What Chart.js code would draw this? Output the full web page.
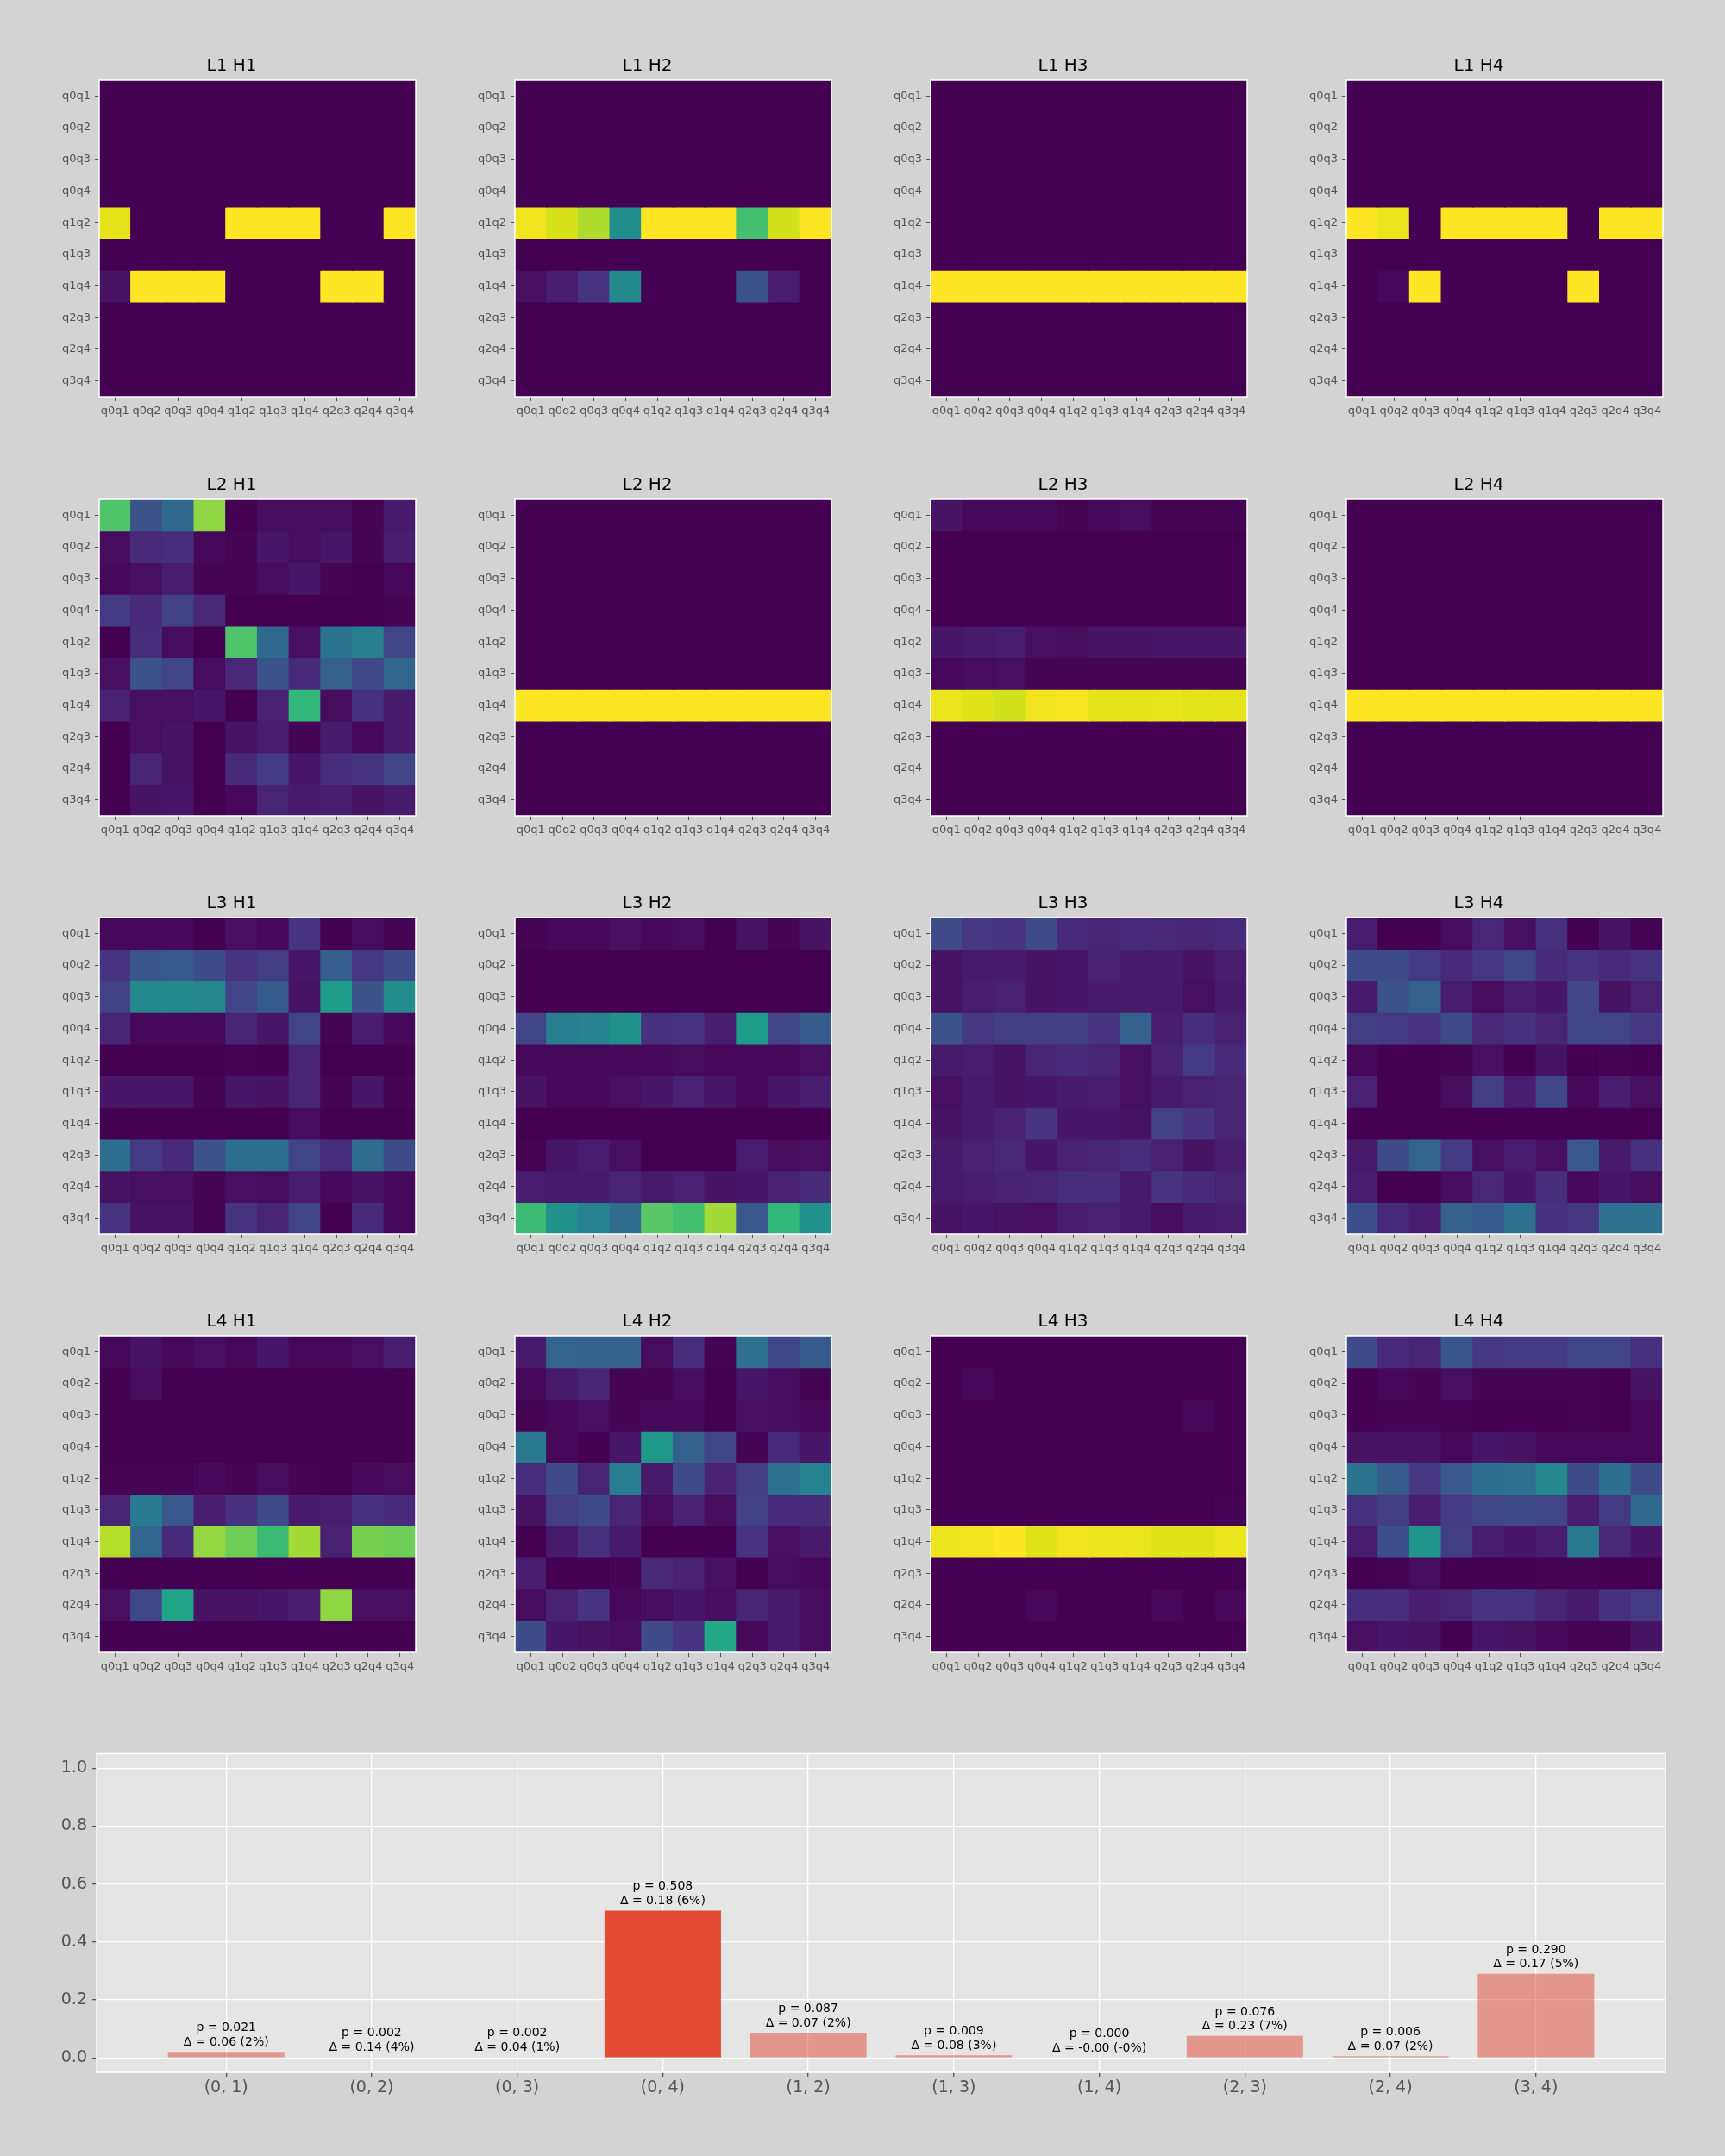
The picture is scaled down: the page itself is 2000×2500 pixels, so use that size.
<!DOCTYPE html>
<html>
<head>
<meta charset="utf-8">
<script src="https://cdn.jsdelivr.net/npm/chart.js@4.4.1/dist/chart.umd.min.js"></script>
<style>
  body { margin: 0; background: #d3d3d3; width: 2000px; height: 2500px; position: relative; overflow: hidden; }
  canvas { position: absolute; }
</style>
</head>
<body>
<script>
// qubit pair labels for the attention maps
const pairs = ['q0q1', 'q0q2', 'q0q3', 'q0q4', 'q1q2', 'q1q3', 'q1q4', 'q2q3', 'q2q4', 'q3q4'];

// attention weights, rows = query pair, cols = key pair
const L1H1 = [
  [0,0,0,0,0,0,0,0,0,0],
  [0,0,0,0,0,0,0,0,0,0],
  [0,0,0,0,0,0,0,0,0,0],
  [0,0,0,0,0,0,0,0,0,0],
  [0.96,0,0,0,1,1,1,0,0,1],
  [0,0,0,0,0,0,0,0,0,0],
  [0.05,1,1,1,0,0,0,1,1,0],
  [0,0,0,0,0,0,0,0,0,0],
  [0,0,0,0,0,0,0,0,0,0],
  [0,0,0,0,0,0,0,0,0,0]
];
const L1H2 = [
  [0,0,0,0,0,0,0,0,0,0],
  [0,0,0,0,0,0,0,0,0,0],
  [0,0,0,0,0,0,0,0,0,0],
  [0,0,0,0,0,0,0,0,0,0],
  [0.98,0.94,0.88,0.49,1,1,1,0.7,0.93,1],
  [0,0,0,0,0,0,0,0,0,0],
  [0.04,0.08,0.15,0.47,0,0,0,0.25,0.08,0],
  [0,0,0,0,0,0,0,0,0,0],
  [0,0,0,0,0,0,0,0,0,0],
  [0,0,0,0,0,0,0,0,0,0]
];
const L1H3 = [
  [0,0,0,0,0,0,0,0,0,0],
  [0,0,0,0,0,0,0,0,0,0],
  [0,0,0,0,0,0,0,0,0,0],
  [0,0,0,0,0,0,0,0,0,0],
  [0,0,0,0,0,0,0,0,0,0],
  [0,0,0,0,0,0,0,0,0,0],
  [1,1,1,1,1,1,1,1,1,1],
  [0,0,0,0,0,0,0,0,0,0],
  [0,0,0,0,0,0,0,0,0,0],
  [0,0,0,0,0,0,0,0,0,0]
];
const L1H4 = [
  [0,0,0,0,0,0,0,0,0,0],
  [0,0,0,0,0,0,0,0,0,0],
  [0,0,0,0,0,0,0,0,0,0],
  [0,0,0,0,0,0,0,0,0,0],
  [1,0.97,0,1,1,1,1,0,1,1],
  [0,0,0,0,0,0,0,0,0,0],
  [0,0.02,1,0,0,0,0,1,0,0],
  [0,0,0,0,0,0,0,0,0,0],
  [0,0,0,0,0,0,0,0,0,0],
  [0,0,0,0,0,0,0,0,0,0]
];
const L2H1 = [
  [0.72,0.25,0.34,0.83,0,0.03,0.03,0.03,0.01,0.07],
  [0.03,0.12,0.13,0.02,0.01,0.06,0.03,0.06,0.01,0.08],
  [0.02,0.04,0.08,0.01,0.01,0.03,0.06,0.01,0,0.02],
  [0.17,0.12,0.19,0.11,0,0,0,0,0,0.01],
  [0,0.13,0.03,0,0.72,0.34,0.04,0.38,0.43,0.2],
  [0.04,0.25,0.2,0.03,0.11,0.25,0.12,0.3,0.21,0.33],
  [0.09,0.04,0.04,0.06,0,0.09,0.66,0.03,0.14,0.07],
  [0,0.04,0.05,0,0.05,0.08,0.01,0.07,0.02,0.07],
  [0,0.1,0.05,0,0.12,0.17,0.06,0.13,0.15,0.2],
  [0,0.05,0.06,0,0.02,0.1,0.07,0.08,0.05,0.07]
];
const L2H2 = [
  [0,0,0,0,0,0,0,0,0,0],
  [0,0,0,0,0,0,0,0,0,0],
  [0,0,0,0,0,0,0,0,0,0],
  [0,0,0,0,0,0,0,0,0,0],
  [0,0,0,0,0,0,0,0,0,0],
  [0,0,0,0,0,0,0,0,0,0],
  [1,1,1,1,1,1,1,1,1,1],
  [0,0,0,0,0,0,0,0,0,0],
  [0,0,0,0,0,0,0,0,0,0],
  [0,0,0,0,0,0,0,0,0,0]
];
const L2H3 = [
  [0.05,0.02,0.02,0.02,0.01,0.02,0.03,0.01,0.01,0.01],
  [0,0,0,0,0,0,0,0,0,0],
  [0,0,0,0,0,0,0,0,0,0],
  [0,0,0,0,0,0,0,0,0,0],
  [0.06,0.07,0.08,0.04,0.03,0.05,0.05,0.06,0.06,0.06],
  [0.02,0.03,0.04,0.01,0.01,0.01,0.01,0.01,0.01,0.01],
  [0.97,0.95,0.93,0.98,0.99,0.96,0.96,0.965,0.955,0.96],
  [0,0,0,0,0,0,0,0,0,0],
  [0,0,0,0,0,0,0,0,0,0],
  [0,0,0,0,0,0,0,0,0,0]
];
const L2H4 = [
  [0,0,0,0,0,0,0,0,0,0],
  [0,0,0,0,0,0,0,0,0,0],
  [0,0,0,0,0,0,0,0,0,0],
  [0,0,0,0,0,0,0,0,0,0],
  [0,0,0,0,0,0,0,0,0,0],
  [0,0,0,0,0,0,0,0,0,0],
  [1,1,1,1,1,1,1,1,1,1],
  [0,0,0,0,0,0,0,0,0,0],
  [0,0,0,0,0,0,0,0,0,0],
  [0,0,0,0,0,0,0,0,0,0]
];
const L3H1 = [
  [0.02,0.02,0.02,0,0.04,0.02,0.15,0,0.03,0.01],
  [0.15,0.26,0.28,0.23,0.15,0.18,0.06,0.29,0.16,0.23],
  [0.19,0.47,0.47,0.46,0.2,0.28,0.05,0.55,0.25,0.48],
  [0.1,0.02,0.02,0.02,0.1,0.06,0.2,0.01,0.08,0.02],
  [0,0,0,0,0.01,0,0.1,0,0,0],
  [0.06,0.06,0.06,0.01,0.06,0.05,0.1,0.01,0.06,0.01],
  [0,0,0,0,0,0,0.03,0,0,0],
  [0.36,0.17,0.12,0.25,0.36,0.36,0.2,0.13,0.35,0.23],
  [0.05,0.04,0.04,0.01,0.04,0.03,0.08,0.02,0.05,0.02],
  [0.15,0.05,0.05,0.01,0.15,0.1,0.2,0,0.12,0.02]
];
const L3H2 = [
  [0.01,0.02,0.02,0.04,0.02,0.03,0,0.05,0.01,0.05],
  [0,0,0,0,0,0,0,0,0,0],
  [0,0,0,0,0,0,0,0,0,0],
  [0.2,0.42,0.44,0.5,0.14,0.15,0.08,0.55,0.2,0.28],
  [0.02,0.02,0.02,0.02,0.02,0.03,0.02,0.02,0.02,0.04],
  [0.05,0.02,0.02,0.04,0.06,0.09,0.06,0.02,0.06,0.08],
  [0,0,0,0,0,0,0,0,0,0],
  [0.01,0.06,0.08,0.04,0,0,0,0.08,0.03,0.04],
  [0.08,0.07,0.07,0.1,0.07,0.09,0.05,0.06,0.09,0.12],
  [0.68,0.5,0.44,0.35,0.74,0.7,0.86,0.27,0.66,0.5]
];
const L3H3 = [
  [0.22,0.16,0.15,0.22,0.12,0.1,0.12,0.11,0.1,0.12],
  [0.05,0.07,0.07,0.05,0.06,0.09,0.07,0.07,0.05,0.08],
  [0.05,0.08,0.09,0.05,0.06,0.07,0.07,0.07,0.04,0.07],
  [0.25,0.16,0.18,0.18,0.18,0.15,0.3,0.08,0.13,0.09],
  [0.07,0.08,0.05,0.1,0.12,0.1,0.04,0.09,0.17,0.12],
  [0.04,0.07,0.05,0.06,0.07,0.08,0.04,0.07,0.09,0.1],
  [0.05,0.07,0.09,0.15,0.06,0.06,0.05,0.19,0.15,0.1],
  [0.07,0.09,0.11,0.06,0.09,0.1,0.13,0.09,0.05,0.08],
  [0.07,0.08,0.09,0.1,0.13,0.13,0.07,0.15,0.12,0.1],
  [0.05,0.06,0.05,0.04,0.08,0.09,0.07,0.03,0.07,0.08]
];
const L3H4 = [
  [0.08,0,0,0.03,0.11,0.04,0.14,0,0.05,0.01],
  [0.23,0.23,0.17,0.12,0.16,0.21,0.12,0.15,0.12,0.15],
  [0.07,0.25,0.3,0.08,0.03,0.08,0.06,0.2,0.05,0.09],
  [0.18,0.17,0.15,0.22,0.11,0.14,0.1,0.2,0.2,0.16],
  [0.02,0,0,0.01,0.04,0,0.05,0,0.01,0],
  [0.09,0,0,0.03,0.18,0.08,0.21,0.02,0.08,0.04],
  [0,0,0,0,0,0,0,0,0,0],
  [0.07,0.22,0.32,0.17,0.04,0.08,0.04,0.27,0.07,0.14],
  [0.08,0,0,0.03,0.11,0.06,0.13,0.02,0.06,0.03],
  [0.24,0.12,0.08,0.3,0.28,0.37,0.14,0.16,0.37,0.37]
];
const L4H1 = [
  [0.02,0.05,0.02,0.04,0.02,0.06,0.02,0.02,0.04,0.08],
  [0,0.03,0,0,0,0,0,0,0,0],
  [0,0,0,0,0,0,0,0,0,0],
  [0,0,0,0,0,0,0,0,0,0],
  [0.01,0.01,0.01,0.02,0.01,0.03,0.01,0,0.02,0.03],
  [0.1,0.41,0.27,0.08,0.14,0.22,0.07,0.08,0.14,0.12],
  [0.89,0.33,0.12,0.84,0.78,0.68,0.86,0.09,0.8,0.78],
  [0,0,0,0,0,0,0,0,0,0],
  [0.04,0.21,0.58,0.05,0.05,0.06,0.08,0.83,0.04,0.04],
  [0,0,0,0,0,0,0,0,0,0]
];
const L4H2 = [
  [0.07,0.32,0.3,0.3,0.03,0.13,0.01,0.37,0.21,0.28],
  [0.02,0.07,0.1,0.01,0.01,0.03,0,0.06,0.03,0.01],
  [0.01,0.02,0.04,0.01,0.02,0.02,0,0.04,0.03,0.02],
  [0.4,0.02,0,0.06,0.53,0.3,0.2,0.01,0.12,0.06],
  [0.13,0.22,0.1,0.42,0.07,0.22,0.09,0.18,0.37,0.44],
  [0.05,0.18,0.22,0.1,0.03,0.09,0.03,0.19,0.12,0.12],
  [0,0.07,0.14,0.07,0,0,0,0.15,0.04,0.07],
  [0.08,0,0,0.01,0.11,0.09,0.04,0,0.03,0.02],
  [0.03,0.09,0.15,0.02,0.03,0.06,0.03,0.1,0.07,0.03],
  [0.23,0.06,0.05,0.03,0.22,0.15,0.6,0.02,0.07,0.03]
];
const L4H3 = [
  [0,0,0,0,0,0,0,0,0,0],
  [0,0.02,0,0,0,0,0,0,0,0],
  [0,0,0,0,0,0,0,0,0.02,0],
  [0,0,0,0,0,0,0,0,0,0],
  [0,0,0,0,0,0,0,0,0,0],
  [0,0,0,0,0,0,0,0,0,0.01],
  [0.97,0.98,1,0.95,0.98,0.97,0.97,0.95,0.95,0.97],
  [0,0,0,0,0,0,0,0,0,0],
  [0,0,0,0.02,0,0,0,0.02,0,0.02],
  [0,0,0,0,0,0,0,0,0,0]
];
const L4H4 = [
  [0.22,0.12,0.1,0.26,0.16,0.17,0.17,0.2,0.2,0.14],
  [0,0.02,0.01,0.04,0.01,0.01,0.01,0.01,0,0.05],
  [0,0.01,0.01,0.01,0,0,0,0.01,0,0.02],
  [0.05,0.05,0.05,0.02,0.06,0.05,0.02,0.02,0.02,0.02],
  [0.38,0.28,0.16,0.27,0.36,0.37,0.46,0.23,0.36,0.23],
  [0.14,0.18,0.08,0.17,0.2,0.22,0.2,0.08,0.17,0.34],
  [0.08,0.24,0.52,0.18,0.08,0.06,0.08,0.4,0.11,0.06],
  [0,0.01,0.03,0,0,0,0.01,0.01,0,0],
  [0.13,0.13,0.08,0.1,0.15,0.15,0.1,0.07,0.14,0.17],
  [0.04,0.06,0.05,0,0.06,0.05,0.02,0.01,0.01,0.05]
];

// bottom bar chart
const pairLabels = ['(0, 1)', '(0, 2)', '(0, 3)', '(0, 4)', '(1, 2)', '(1, 3)', '(1, 4)', '(2, 3)', '(2, 4)', '(3, 4)'];
const pValues = [0.021, 0.002, 0.002, 0.508, 0.087, 0.009, 0.000, 0.076, 0.006, 0.290];
const deltaValues = [0.06, 0.14, 0.04, 0.18, 0.07, 0.08, -0.001, 0.23, 0.07, 0.17];
const deltaPct = [2, 4, 1, 6, 2, 3, -0.1, 7, 2, 5];
const yTicks = [0, 0.2, 0.4, 0.6, 0.8, 1.0];

const grid = [[L1H1, L1H2, L1H3, L1H4], [L2H1, L2H2, L2H3, L2H4], [L3H1, L3H2, L3H3, L3H4], [L4H1, L4H2, L4H3, L4H4]];

Chart.defaults.font.family = 'DejaVu Sans';
Chart.defaults.animation = false;

// viridis lookup
const VIR = ['#440154','#471365','#482475','#463480','#414487','#3b528b','#355f8d','#2f6c8e','#2a788e','#25848e',
             '#21918c','#1e9c89','#22a884','#2fb47c','#44bf70','#5ec962','#7ad151','#9bd93c','#bddf26','#dfe318','#fde725'];
function hex(h) { return [1, 3, 5].map(i => parseInt(h.slice(i, i + 2), 16)); }
function viridis(v) {
  const t = Math.max(0, Math.min(1, v)) * 20;
  const i = Math.min(19, Math.floor(t)), f = t - i;
  const a = hex(VIR[i]), b = hex(VIR[i + 1]);
  return 'rgb(' + a.map((c, k) => Math.round(c + (b[k] - c) * f)).join(',') + ')';
}

const whiteFrame = {
  id: 'whiteFrame',
  afterDraw(chart) {
    const a = chart.chartArea, c = chart.ctx;
    c.save();
    c.strokeStyle = '#ffffff';
    c.lineWidth = 1.5;
    c.strokeRect(a.left, a.top, a.right - a.left, a.bottom - a.top);
    c.restore();
  }
};

function addCanvas(left, top, w, h) {
  const cv = document.createElement('canvas');
  cv.width = w; cv.height = h;
  cv.style.left = left + 'px'; cv.style.top = top + 'px';
  cv.style.width = w + 'px'; cv.style.height = h + 'px';
  document.body.appendChild(cv);
  return cv;
}

const colX = [115, 597, 1079, 1561];
const rowY = [93, 579, 1064, 1549];
const SIZE = 367;

function heatmap(cv, title, matrix) {
  new Chart(cv, {
    type: 'bar',
    data: {
      labels: pairs,
      datasets: matrix.map((row, r) => ({
        data: row.map(() => [r - 0.5, r + 0.5]),
        backgroundColor: row.map(viridis),
        borderWidth: 0,
        inflateAmount: 0.6,
        grouped: false,
        barPercentage: 1,
        categoryPercentage: 1
      }))
    },
    options: {
      responsive: false,
      layout: { padding: { right: 10 } },
      plugins: {
        legend: { display: false },
        tooltip: { enabled: false },
        title: { display: true, text: title, color: '#000', font: { size: 20, weight: 'normal' }, padding: { top: 0, bottom: 4 } }
      },
      scales: {
        x: {
          grid: { drawOnChartArea: false, offset: false, tickLength: 5, tickColor: '#555' },
          border: { display: false },
          ticks: { color: '#555', font: { size: 13 }, padding: 4, maxRotation: 0, autoSkip: false },
          afterFit: a => { a.height = 30; }
        },
        y: {
          type: 'linear', min: -0.5, max: 9.5, reverse: true,
          afterBuildTicks: a => { a.ticks = pairs.map((_, i) => ({ value: i })); },
          grid: { drawOnChartArea: false, tickLength: 5, tickColor: '#555' },
          border: { display: false },
          ticks: { color: '#555', font: { size: 13 }, padding: 5, callback: v => pairs[v] },
          afterFit: a => { a.width = 60; }
        }
      }
    },
    plugins: [whiteFrame]
  });
}

grid.forEach((layer, l) => layer.forEach((m, h) => {
  const cv = addCanvas(colX[h] - 60, rowY[l] - 28, 60 + SIZE + 10, 28 + SIZE + 30);
  heatmap(cv, 'L' + (l + 1) + ' H' + (h + 1), m);
}));

// bar chart
const best = pValues.indexOf(Math.max(...pValues));
const areaBg = {
  id: 'areaBg',
  beforeDraw(chart) {
    const a = chart.chartArea, c = chart.ctx;
    c.save(); c.fillStyle = '#e5e5e5';
    c.fillRect(a.left, a.top, a.right - a.left, a.bottom - a.top);
    c.restore();
  }
};
const barNotes = {
  id: 'barNotes',
  afterDatasetsDraw(chart) {
    const c = chart.ctx;
    c.save();
    c.font = '14px "DejaVu Sans"';
    c.fillStyle = '#000';
    c.textAlign = 'center';
    c.textBaseline = 'bottom';
    chart.getDatasetMeta(0).data.forEach((el, i) => {
      c.fillText('Δ = ' + deltaValues[i].toFixed(2) + ' (' + deltaPct[i].toFixed(0) + '%)', el.x, el.y - 4);
      c.fillText('p = ' + pValues[i].toFixed(3), el.x, el.y - 20.7);
    });
    c.restore();
  }
};

const barCv = addCanvas(52, 2016, 60 + 1819 + 10, 17 + 370 + 40);
new Chart(barCv, {
  type: 'bar',
  data: {
    datasets: [{
      data: pValues.map((p, i) => ({ x: i, y: p })),
      backgroundColor: pValues.map((p, i) => i === best ? '#e24a33' : 'rgba(226,74,51,0.5)'),
      borderWidth: 0,
      barPercentage: 0.8,
      categoryPercentage: 1
    }]
  },
  options: {
    responsive: false,
    layout: { padding: { top: 10, right: 10 } },
    plugins: { legend: { display: false }, tooltip: { enabled: false } },
    scales: {
      x: {
        type: 'linear', min: -0.89, max: 9.89, offset: false,
        afterBuildTicks: a => { a.ticks = pairLabels.map((_, i) => ({ value: i })); },
        grid: { offset: false, color: '#ffffff', lineWidth: 1.3, tickColor: '#555', tickLength: 5 },
        border: { display: false },
        ticks: { color: '#555', font: { size: 19 }, padding: 2, maxRotation: 0, autoSkip: false, callback: v => pairLabels[v] },
        afterFit: a => { a.height = 40; }
      },
      y: {
        min: -0.05, max: 1.05,
        afterBuildTicks: a => { a.ticks = yTicks.map(v => ({ value: v })); },
        grid: { color: '#ffffff', lineWidth: 1.3, tickColor: '#555', tickLength: 5 },
        border: { display: false },
        ticks: { color: '#555', font: { size: 19 }, padding: 6, callback: v => v.toFixed(1) },
        afterFit: a => { a.width = 60; }
      }
    }
  },
  plugins: [areaBg, whiteFrame, barNotes]
});
</script>
</body>
</html>
